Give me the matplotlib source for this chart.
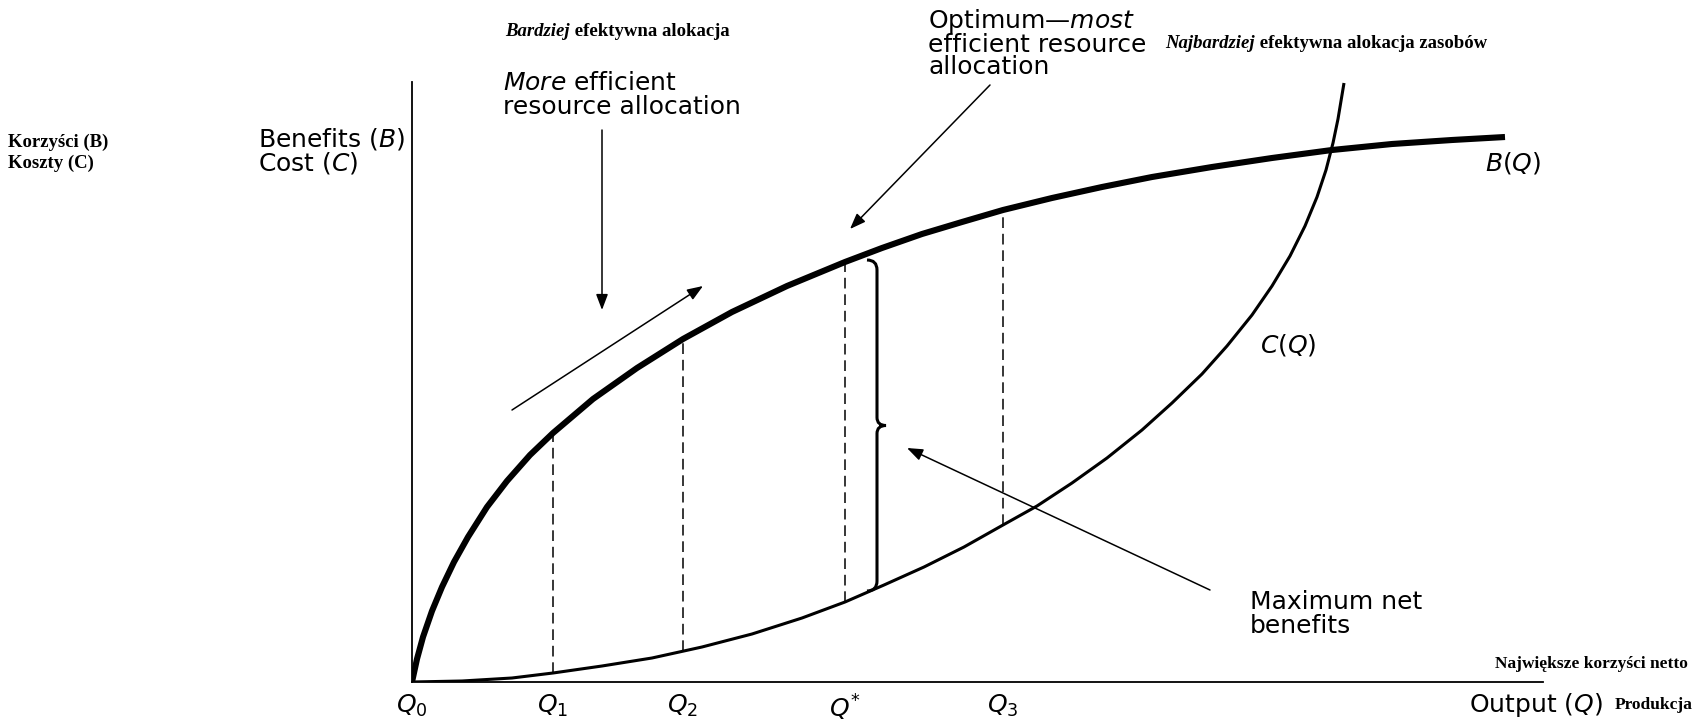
import numpy as np
import matplotlib.pyplot as plt
from matplotlib.path import Path
from matplotlib.patches import PathPatch

plt.rcParams['font.family'] = ['DejaVu Sans']
plt.rcParams['mathtext.fontset'] = 'dejavusans'

# positions of the marked outputs on the Q axis
q_pos = [0, 141, 271, 433, 591]
q_labels = ['$Q_0$', '$Q_1$', '$Q_2$', '$Q^{*}$', '$Q_3$']
dash_q = [141, 271, 433, 591]

# benefit curve B(Q)
b_q = [0, 5, 11, 20, 30, 42, 56, 75, 95, 118, 141, 181, 225, 271, 320, 375, 433, 470, 510, 550,
       591, 640, 690, 740, 800, 860, 920, 980, 1040, 1093]
b_val = [0, 23, 45, 71, 95, 120, 145, 175, 201, 227, 249, 283, 314, 343, 370, 396, 420, 434, 448, 460,
         472, 484, 495, 505, 515, 524, 532, 538, 542, 545]

# cost curve C(Q)
c_q = [0, 50, 100, 141, 190, 240, 290, 340, 390, 433, 472, 512, 552, 591, 625, 660, 695, 730,
       760, 790, 815, 840, 860, 878, 893, 905, 914, 921, 926, 930, 932]
c_val = [0, 1, 4, 9, 16, 24, 35, 48, 64, 80, 97, 115, 135, 157, 176, 199, 224, 252,
         279, 308, 336, 367, 396, 426, 456, 485, 512, 539, 563, 587, 599]

W, H = 1695, 720
SERIF = 'Liberation Serif'


def at(x, y):
    # pixel position -> figure fraction
    return x / W, 1 - y / H


fig = plt.figure(figsize=(W / 100, H / 100), dpi=100)
ax = fig.add_axes([412 / W, (H - 682) / H, 1131 / W, 600 / H])
ax.set_xlim(0, 1131)
ax.set_ylim(0, 600)
for s in ['top', 'right']:
    ax.spines[s].set_visible(False)
ax.spines['left'].set_linewidth(1.3)
ax.spines['bottom'].set_linewidth(1.3)
ax.set_yticks([])
ax.set_xticks(q_pos, q_labels)
ax.tick_params(axis='x', length=0, pad=8, labelsize=18)

# curves
ax.plot(b_q, b_val, color='black', lw=4.4, solid_capstyle='butt', solid_joinstyle='round')
ax.plot(c_q, c_val, color='black', lw=2.2, solid_capstyle='butt', solid_joinstyle='round')

# dashed verticals between C and B
for q in dash_q:
    ax.plot([q, q], [np.interp(q, c_q, c_val), np.interp(q, b_q, b_val)],
            color='black', lw=1.1, dashes=(7, 3.8))

# brace showing maximum net benefits
bx = 465
top = np.interp(433, b_q, b_val) + 2
bot = np.interp(433, c_q, c_val) + 11
mid = (top + bot) / 2
verts = [(bx - 10, top), (bx, top), (bx, top - 10),
         (bx, mid + 8), (bx, mid), (bx + 9, mid),
         (bx, mid), (bx, mid - 8),
         (bx, bot + 10), (bx, bot), (bx - 10, bot)]
codes = [Path.MOVETO, Path.CURVE3, Path.CURVE3,
         Path.LINETO, Path.CURVE3, Path.CURVE3,
         Path.CURVE3, Path.CURVE3,
         Path.LINETO, Path.CURVE3, Path.CURVE3]
ax.add_patch(PathPatch(Path(verts, codes), fill=False, lw=2.2, color='black'))

# arrows
aprops = dict(arrowstyle='-|>,head_length=0.95,head_width=0.36', mutation_scale=10,
              lw=1.1, color='black', shrinkA=0, shrinkB=0)
for tail, head in [((190, 552), (190, 372)),
                   ((100, 272), (291, 396)),
                   ((578, 597), (438, 453)),
                   ((798, 92), (495, 234))]:
    ax.annotate('', xy=head, xytext=tail, arrowprops=aprops, annotation_clip=False)

# english labels
fs = 18
fig.text(*at(258, 151), 'Benefits ($B$)\nCost ($C$)', fontsize=fs, va='center', linespacing=0.95)
fig.text(*at(503, 95), '$More$ efficient\nresource allocation', fontsize=fs, va='center', linespacing=0.95)
fig.text(*at(928, 43), 'Optimum—$most$\nefficient resource\nallocation', fontsize=fs,
         va='center', linespacing=0.9)
fig.text(*at(1485, 163), '$B(Q)$', fontsize=fs, va='center')
fig.text(*at(1260, 345), '$C(Q)$', fontsize=fs, va='center')
fig.text(*at(1250, 614), 'Maximum net\nbenefits', fontsize=fs, va='center', linespacing=0.95)
fig.text(*at(1603, 705), 'Output ($Q$)', fontsize=fs, ha='right', va='center')

# polish labels
fig.text(*at(8, 153), 'Korzyści (B)\nKoszty (C)', family=SERIF, fontsize=13.5, weight='bold',
         va='center', linespacing=1.25)
fig.text(*at(1693, 705), 'Produkcja', family=SERIF, fontsize=12.5, weight='bold', ha='right', va='center')
fig.text(*at(1688, 664), 'Największe korzyści netto', family=SERIF, fontsize=12.5, weight='bold',
         ha='right', va='center')
for x, y, first, rest in [(505, 32, 'Bardziej', ' efektywna alokacja'),
                          (1165, 44, 'Najbardziej', ' efektywna alokacja zasobów')]:
    t = fig.text(*at(x, y), first, family=SERIF, fontsize=13.5, style='italic',
                 weight='bold', va='center')
    ax.annotate(rest, xy=(1, 0), xycoords=t, family=SERIF, fontsize=13.5, weight='bold',
                va='bottom', ha='left', annotation_clip=False)

fig.savefig('out.png', dpi=100)
